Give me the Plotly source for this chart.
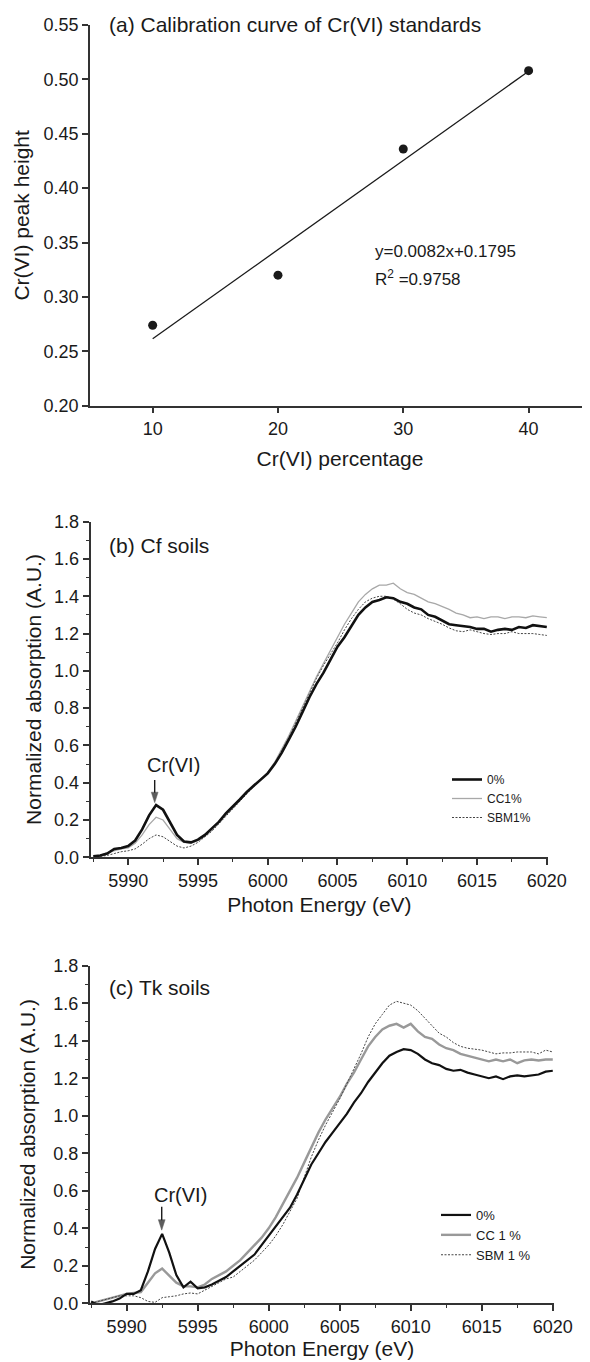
import plotly.graph_objects as go

# ---- (a) calibration of Cr(VI) standards ----
cr_pct = [10, 20, 30, 40]
peak_height = [0.274, 0.320, 0.436, 0.508]
fit_x = [10, 40]
fit_y = [0.2615, 0.5075]

# ---- XANES spectra, photon energy grid (eV) ----
energy = [5987.5, 5988.0, 5988.5, 5989.0, 5989.5, 5990.0, 5990.5, 5991.0, 5991.5, 5992.0,
          5992.5, 5993.0, 5993.5, 5994.0, 5994.5, 5995.0, 5995.5, 5996.0, 5996.5, 5997.0,
          5997.5, 5998.0, 5998.5, 5999.0, 5999.5, 6000.0, 6000.5, 6001.0, 6001.5, 6002.0,
          6002.5, 6003.0, 6003.5, 6004.0, 6004.5, 6005.0, 6005.5, 6006.0, 6006.5, 6007.0,
          6007.5, 6008.0, 6008.5, 6009.0, 6009.5, 6010.0, 6010.5, 6011.0, 6011.5, 6012.0,
          6012.5, 6013.0, 6013.5, 6014.0, 6014.5, 6015.0, 6015.5, 6016.0, 6016.5, 6017.0,
          6017.5, 6018.0, 6018.5, 6019.0, 6019.5, 6020.0]

# (b) Cf soils
cf_0 = [0.005, 0.01, 0.02, 0.045, 0.05, 0.06, 0.09, 0.15, 0.225, 0.28,
        0.255, 0.19, 0.12, 0.085, 0.08, 0.095, 0.12, 0.155, 0.19, 0.235,
        0.27, 0.31, 0.35, 0.385, 0.42, 0.45, 0.50, 0.56, 0.63, 0.70,
        0.78, 0.86, 0.93, 0.99, 1.06, 1.13, 1.18, 1.24, 1.30, 1.34,
        1.37, 1.38, 1.395, 1.39, 1.37, 1.36, 1.34, 1.33, 1.30, 1.29,
        1.27, 1.25, 1.245, 1.24, 1.235, 1.225, 1.225, 1.21, 1.22, 1.225,
        1.22, 1.235, 1.23, 1.245, 1.24, 1.235]
cf_cc = [0.0, 0.01, 0.025, 0.035, 0.045, 0.05, 0.075, 0.12, 0.175, 0.215,
         0.20, 0.15, 0.10, 0.08, 0.075, 0.09, 0.115, 0.15, 0.19, 0.235,
         0.27, 0.31, 0.35, 0.39, 0.42, 0.455, 0.51, 0.58, 0.65, 0.73,
         0.81, 0.89, 0.97, 1.04, 1.11, 1.18, 1.25, 1.31, 1.37, 1.41,
         1.44, 1.46, 1.46, 1.47, 1.44, 1.42, 1.41, 1.39, 1.37, 1.36,
         1.345, 1.33, 1.31, 1.30, 1.285, 1.29, 1.28, 1.29, 1.29, 1.28,
         1.29, 1.29, 1.285, 1.295, 1.29, 1.285]
cf_sbm = [0.0, 0.005, 0.01, 0.02, 0.03, 0.035, 0.045, 0.07, 0.10, 0.12,
          0.11, 0.085, 0.06, 0.05, 0.06, 0.08, 0.11, 0.14, 0.18, 0.22,
          0.26, 0.30, 0.34, 0.38, 0.42, 0.45, 0.50, 0.57, 0.64, 0.72,
          0.80, 0.88, 0.96, 1.03, 1.09, 1.15, 1.22, 1.28, 1.33, 1.37,
          1.39, 1.40, 1.40, 1.385, 1.36, 1.33, 1.31, 1.30, 1.28, 1.265,
          1.25, 1.23, 1.215, 1.21, 1.22, 1.21, 1.20, 1.195, 1.20, 1.20,
          1.21, 1.20, 1.20, 1.20, 1.195, 1.19]

# (c) Tk soils
tk_0 = [0.01, -0.01, 0.0, 0.01, 0.025, 0.05, 0.05, 0.07, 0.17, 0.29,
        0.37, 0.27, 0.15, 0.085, 0.115, 0.08, 0.085, 0.10, 0.12, 0.14,
        0.17, 0.20, 0.23, 0.26, 0.31, 0.36, 0.41, 0.46, 0.51, 0.58,
        0.66, 0.74, 0.80, 0.86, 0.91, 0.96, 1.01, 1.07, 1.12, 1.18,
        1.23, 1.28, 1.32, 1.34, 1.355, 1.35, 1.33, 1.30, 1.28, 1.27,
        1.25, 1.24, 1.245, 1.23, 1.22, 1.21, 1.20, 1.21, 1.195, 1.21,
        1.215, 1.21, 1.215, 1.22, 1.235, 1.24]
tk_cc = [0.0, 0.01, 0.02, 0.03, 0.04, 0.05, 0.055, 0.06, 0.11, 0.16,
         0.185, 0.15, 0.11, 0.09, 0.09, 0.085, 0.10, 0.13, 0.15, 0.17,
         0.20, 0.23, 0.27, 0.31, 0.35, 0.40, 0.46, 0.53, 0.60, 0.67,
         0.75, 0.83, 0.91, 0.98, 1.04, 1.10, 1.17, 1.23, 1.30, 1.37,
         1.42, 1.46, 1.48, 1.49, 1.47, 1.49, 1.45, 1.42, 1.41, 1.38,
         1.36, 1.35, 1.33, 1.32, 1.31, 1.30, 1.29, 1.30, 1.29, 1.30,
         1.28, 1.295, 1.30, 1.295, 1.30, 1.30]
tk_sbm = [0.0, 0.01, 0.02, 0.03, 0.04, 0.04, 0.04, 0.03, 0.01, 0.005,
          0.03, 0.035, 0.04, 0.05, 0.055, 0.05, 0.07, 0.09, 0.11, 0.13,
          0.14, 0.17, 0.20, 0.23, 0.27, 0.31, 0.36, 0.42, 0.49, 0.56,
          0.67, 0.78, 0.87, 0.95, 1.02, 1.09, 1.17, 1.25, 1.33, 1.42,
          1.49, 1.54, 1.59, 1.61, 1.60, 1.59, 1.56, 1.52, 1.48, 1.44,
          1.42, 1.39, 1.37, 1.36, 1.355, 1.35, 1.34, 1.33, 1.335, 1.335,
          1.34, 1.34, 1.34, 1.33, 1.35, 1.34]

# Cr(VI) pre-edge arrows: energy, tail, tip
arrow_b = ([5991.9, 5991.9], [0.415, 0.293])
arrow_c = ([5992.47, 5992.47], [0.515, 0.39])

FONT = "Liberation Sans, Arial, sans-serif"
INK = "#1a1a1a"
AXC = "#333333"
OFF = 8                      # the page body keeps an 8px margin
W, H = 590 - OFF, 1362 - OFF


def px(x):
    return (x - OFF) / W


def py(y):
    return 1 - (y - OFF) / H


fig = go.Figure()

# panel a
fig.add_trace(go.Scatter(x=fit_x, y=fit_y, mode="lines", line=dict(color=INK, width=1.3),
                         showlegend=False, xaxis="x", yaxis="y"))
fig.add_trace(go.Scatter(x=cr_pct, y=peak_height, mode="markers",
                         marker=dict(color=INK, size=9), showlegend=False, xaxis="x", yaxis="y"))

# panel b
fig.add_trace(go.Scatter(x=energy, y=cf_cc, mode="lines", name="CC1%", legend="legend2", legendrank=2,
                         line=dict(color="#a8a8a8", width=1.3), xaxis="x2", yaxis="y2"))
fig.add_trace(go.Scatter(x=energy, y=cf_sbm, mode="lines", name="SBM1%", legend="legend2", legendrank=3,
                         line=dict(color="#444444", width=1, dash="2px,1.5px"), xaxis="x2", yaxis="y2"))
fig.add_trace(go.Scatter(x=energy, y=cf_0, mode="lines", name="0%", legend="legend2", legendrank=1,
                         line=dict(color="#111111", width=2.6), xaxis="x2", yaxis="y2"))

# panel c
fig.add_trace(go.Scatter(x=energy, y=tk_cc, mode="lines", name="CC 1 %", legend="legend3", legendrank=2,
                         line=dict(color="#999999", width=2.4), xaxis="x3", yaxis="y3"))
fig.add_trace(go.Scatter(x=energy, y=tk_sbm, mode="lines", name="SBM 1 %", legend="legend3", legendrank=3,
                         line=dict(color="#444444", width=1, dash="2px,1.5px"), xaxis="x3", yaxis="y3"))
fig.add_trace(go.Scatter(x=energy, y=tk_0, mode="lines", name="0%", legend="legend3", legendrank=1,
                         line=dict(color="#111111", width=2.2), xaxis="x3", yaxis="y3"))

# arrows pointing at the Cr(VI) pre-edge peak
for (ax_, ay_), xa, ya in [(arrow_b, "x2", "y2"), (arrow_c, "x3", "y3")]:
    fig.add_trace(go.Scatter(x=ax_, y=ay_, mode="lines+markers", showlegend=False, hoverinfo="skip",
                             line=dict(color=INK, width=1.4),
                             marker=dict(symbol="arrow", angleref="previous", size=[0, 11], color=INK,
                                         line=dict(color=INK, width=0.5)),
                             xaxis=xa, yaxis=ya))


def ax(**kw):
    d = dict(showline=True, linecolor=AXC, linewidth=1.5, ticks="outside", ticklen=6,
             tickwidth=1.5, tickcolor=AXC, showgrid=False, zeroline=False,
             tickfont=dict(size=18, color=INK), title_font=dict(size=21, color=INK))
    d.update(kw)
    return d


minor_x = dict(ticks="outside", ticklen=3, tickwidth=1.2, tickcolor=AXC, dtick=2.5, tick0=5990, showgrid=False)
minor_y = dict(ticks="outside", ticklen=3, tickwidth=1.2, tickcolor=AXC, dtick=0.1, showgrid=False)

fig.update_layout(
    width=W, height=H, margin=dict(l=0, r=0, t=0, b=0),
    template="none", paper_bgcolor="white", plot_bgcolor="white",
    font=dict(family=FONT, color=INK),
    xaxis=ax(domain=[px(90), 1.0], range=[5, 44.9], tickvals=[10, 20, 30, 40], anchor="y",
             title=dict(text="Cr(VI) percentage", standoff=13)),
    yaxis=ax(domain=[py(405.7), py(25)], range=[0.2, 0.55], dtick=0.05, tickformat=".2f",
             anchor="x", title=dict(text="Cr(VI) peak height", standoff=8)),
    xaxis2=ax(domain=[px(90.5), px(548.2)], range=[5987.3, 6020.1], dtick=5, tick0=5990,
              anchor="y2", minor=minor_x, title=dict(text="Photon Energy (eV)", standoff=8)),
    yaxis2=ax(domain=[py(857.3), py(521.7)], range=[0, 1.8], dtick=0.2, tickformat=".1f",
              anchor="x2", minor=minor_y, title=dict(text="Normalized absorption (A.U.)", standoff=7)),
    xaxis3=ax(domain=[px(89.7), px(554.2)], range=[5987.4, 6020.1], dtick=5, tick0=5990,
              anchor="y3", minor=minor_x, title=dict(text="Photon Energy (eV)", standoff=5)),
    yaxis3=ax(domain=[py(1303.3), py(965.7)], range=[0, 1.8], dtick=0.2, tickformat=".1f",
              anchor="x3", minor=minor_y, title=dict(text="Normalized absorption (A.U.)", standoff=12)),
    legend2=dict(x=px(447), y=py(765), xanchor="left", yanchor="top", bgcolor="rgba(0,0,0,0)",
                 font=dict(size=12, color=INK)),
    legend3=dict(x=px(436), y=py(1200), xanchor="left", yanchor="top", bgcolor="rgba(0,0,0,0)",
                 font=dict(size=13, color=INK)),
)

ann = [
    dict(x=6.36, y=0.55, xref="x", yref="y", text="(a) Calibration curve of Cr(VI) standards",
         xanchor="left", yanchor="middle", font=dict(size=21)),
    dict(x=27.6, y=0.3416, xref="x", yref="y", text="y=0.0082x+0.1795",
         xanchor="left", yanchor="middle", font=dict(size=17)),
    dict(x=27.6, y=0.3171, xref="x", yref="y", text="R<sup>2</sup> =0.9758",
         xanchor="left", yanchor="middle", font=dict(size=17)),
    dict(x=5988.5, y=1.675, xref="x2", yref="y2", text="(b) Cf soils",
         xanchor="left", yanchor="middle", font=dict(size=21)),
    dict(x=5993.25, y=0.496, xref="x2", yref="y2", text="Cr(VI)",
         xanchor="center", yanchor="middle", font=dict(size=20)),
    dict(x=5988.65, y=1.682, xref="x3", yref="y3", text="(c) Tk soils",
         xanchor="left", yanchor="middle", font=dict(size=21)),
    dict(x=5993.8, y=0.578, xref="x3", yref="y3", text="Cr(VI)",
         xanchor="center", yanchor="middle", font=dict(size=20)),
]
for a in ann:
    fig.add_annotation(showarrow=False, **a)

fig.write_html("out.html")
